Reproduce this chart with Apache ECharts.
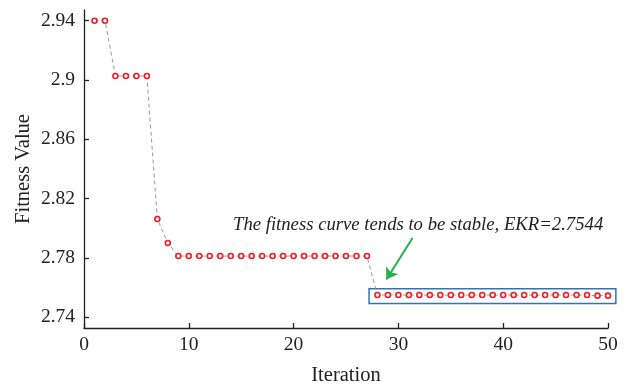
<!DOCTYPE html>
<html>
<head>
<meta charset="utf-8">
<script src="https://cdn.jsdelivr.net/npm/echarts@6/dist/echarts.min.js"></script>
<style>html,body{margin:0;padding:0;background:#fff;}#c{width:632px;height:388px;}</style>
</head>
<body>
<div id="c"></div>
<script>
// Data
var iterations = [1,2,3,4,5,6,7,8,9,10,11,12,13,14,15,16,17,18,19,20,21,22,23,24,25,26,27,28,29,30,31,32,33,34,35,36,37,38,39,40,41,42,43,44,45,46,47,48,49,50];
var fitness = [2.94,2.94,2.9027,2.9027,2.9027,2.9027,2.8063,2.7901,
  2.7813,2.7813,2.7813,2.7813,2.7813,2.7813,2.7813,2.7813,2.7813,2.7813,2.7813,2.7813,2.7813,2.7813,2.7813,2.7813,2.7813,2.7813,2.7813,
  2.755,2.755,2.755,2.755,2.755,2.755,2.755,2.755,2.755,2.755,2.755,2.755,2.755,2.755,2.755,2.755,2.755,2.755,2.755,2.755,2.755,
  2.7546,2.7546];
var yTicks = [2.74,2.78,2.82,2.86,2.9,2.94];
var yTickLabels = ['2.74','2.78','2.82','2.86','2.9','2.94'];
var annotationText = 'The fitness curve tends to be stable, EKR=2.7544';
var boxX = [27.2, 50.75];
var boxY = [2.7493, 2.7593];
var arrowFrom = [31.35, 2.7935];
var arrowTo = [28.85, 2.7655];

var FONT = '"Liberation Serif", "DejaVu Serif", serif';
var chart = echarts.init(document.getElementById('c'));
var data = iterations.map(function(x,i){return [x, fitness[i]];});
chart.setOption({
  animation: false,
  backgroundColor: '#fff',
  grid: {left: 84, right: 24, top: 10, bottom: 60, containLabel: false, outerBoundsMode: 'none'},
  xAxis: {
    type: 'value', min: 0, max: 50, interval: 10,
    name: 'Iteration', nameLocation: 'middle', nameGap: 37,
    nameTextStyle: {fontFamily: FONT, fontSize: 20.5, color: '#222'},
    axisLine: {show: true, lineStyle: {color: '#222', width: 1.3}},
    axisTick: {show: true, inside: true, length: 5, lineStyle: {color: '#222', width: 1.3}},
    axisLabel: {fontFamily: FONT, fontSize: 19.5, color: '#222', margin: 7},
    splitLine: {show: false}
  },
  yAxis: {
    type: 'value', min: 2.7328, max: 2.9472,
    axisLine: {show: true, lineStyle: {color: '#222', width: 1.3}},
    axisTick: {show: true, inside: true, length: 5, customValues: yTicks, lineStyle: {color: '#222', width: 1.3}},
    axisLabel: {fontFamily: FONT, fontSize: 19.5, color: '#222', margin: 9, customValues: yTicks,
      formatter: function(v){ var i = yTicks.indexOf(v); return i>=0 ? yTickLabels[i] : String(v); }},
    splitLine: {show: false}
  },
  series: [{
    type: 'line', data: data, clip: false,
    symbol: 'circle', symbolSize: 5,
    lineStyle: {color: '#9a9a9a', width: 1, type: [4,3]},
    itemStyle: {color: '#fff', borderColor: '#ee1c25', borderWidth: 1.6},
    markLine: {
      silent: true, symbol: ['none', 'arrow'], symbolSize: 11,
      lineStyle: {color: '#22b14c', width: 2, type: 'solid'},
      itemStyle: {color: '#22b14c'},
      label: {show: false},
      data: [[{coord: arrowFrom}, {coord: arrowTo}]]
    }
  }]
});
var p0 = chart.convertToPixel({gridIndex: 0}, [boxX[0], boxY[1]]);
var p1 = chart.convertToPixel({gridIndex: 0}, [boxX[1], boxY[0]]);
chart.setOption({
  graphic: [
    {type: 'rect', shape: {x: p0[0], y: p0[1], width: p1[0]-p0[0], height: p1[1]-p0[1]},
     style: {fill: 'none', stroke: '#2e75b6', lineWidth: 1.5}, silent: true, z: 1},
    {type: 'text', left: 233, top: 216, style: {text: annotationText, font: 'italic 18.7px ' + FONT, fill: '#222'}},
    {type: 'text', x: 24, y: 169, rotation: Math.PI/2, style: {text: 'Fitness Value', font: '20.5px ' + FONT, fill: '#222', align: 'center', verticalAlign: 'middle'}}
  ]
});
</script>
</body>
</html>
